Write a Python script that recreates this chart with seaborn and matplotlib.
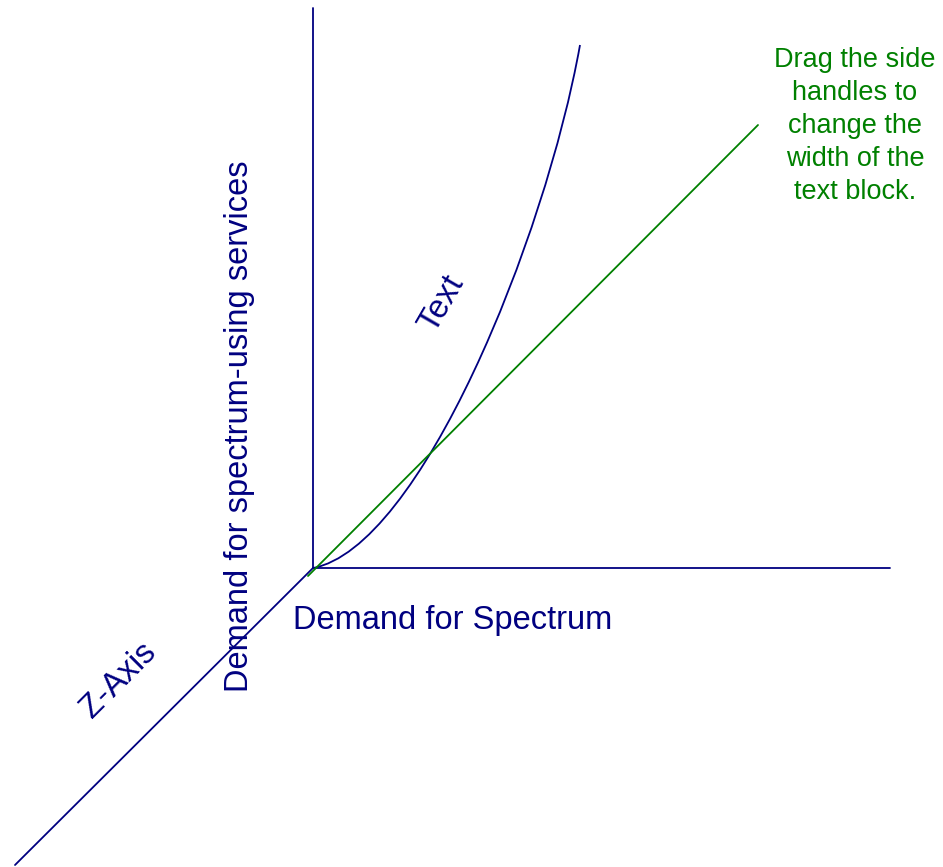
import numpy as np
import pandas as pd
import matplotlib
matplotlib.use('Agg')
import matplotlib.pyplot as plt
from matplotlib.path import Path
from matplotlib.patches import PathPatch
import seaborn as sns

# diagram geometry, in picture pixels (y grows downwards)
y_axis_x = [313, 313]
y_axis_y = [8, 568]
x_axis_x = [313, 890]
x_axis_y = [568, 568]
z_axis_x = [313, 15]
z_axis_y = [568, 865]

# convex demand curve as a cubic Bezier: start, two control points, end
curve_x = [313, 420, 545, 580]
curve_y = [568, 548, 240, 45]

# green straight line
green_x = [308, 758]
green_y = [576, 125]

navy = '#000080'
green = '#008000'

sns.set_theme(style='white')
plt.rcParams['font.family'] = ['Liberation Sans', 'DejaVu Sans']

fig = plt.figure(figsize=(9.43, 8.67), dpi=100)
ax = fig.add_axes([0, 0, 1, 1])

lw = 1.3
sns.lineplot(x=y_axis_x, y=y_axis_y, ax=ax, color=navy, lw=lw, sort=False, estimator=None)
sns.lineplot(x=x_axis_x, y=x_axis_y, ax=ax, color=navy, lw=lw, sort=False, estimator=None)
sns.lineplot(x=z_axis_x, y=z_axis_y, ax=ax, color=navy, lw=lw, sort=False, estimator=None)
sns.lineplot(x=green_x, y=green_y, ax=ax, color=green, lw=lw, sort=False, estimator=None)

curve = Path(list(zip(curve_x, curve_y)),
             [Path.MOVETO, Path.CURVE4, Path.CURVE4, Path.CURVE4])
ax.add_patch(PathPatch(curve, facecolor='none', edgecolor=navy, lw=lw))

fs = 23.5
ax.text(453, 621, 'Demand for Spectrum', color=navy, fontsize=fs, ha='center', va='center')
ax.text(240, 426, 'Demand for spectrum-using services', color=navy, fontsize=fs,
        rotation=90, ha='center', va='center')
ax.text(119, 680, 'Z-Axis', color=navy, fontsize=fs, rotation=45,
        ha='center', va='center', rotation_mode='anchor')
ax.text(442, 304, 'Text', color=navy, fontsize=fs, rotation=60,
        ha='center', va='center', rotation_mode='anchor')
ax.text(855, 126, 'Drag the side\nhandles to\nchange the\nwidth of the\ntext block.',
        color=green, fontsize=19.5, ha='center', va='center', linespacing=1.36)

ax.set_xlim(0, 943)
ax.set_ylim(867, 0)
ax.axis('off')

fig.savefig('out.png', dpi=100, facecolor='white')
